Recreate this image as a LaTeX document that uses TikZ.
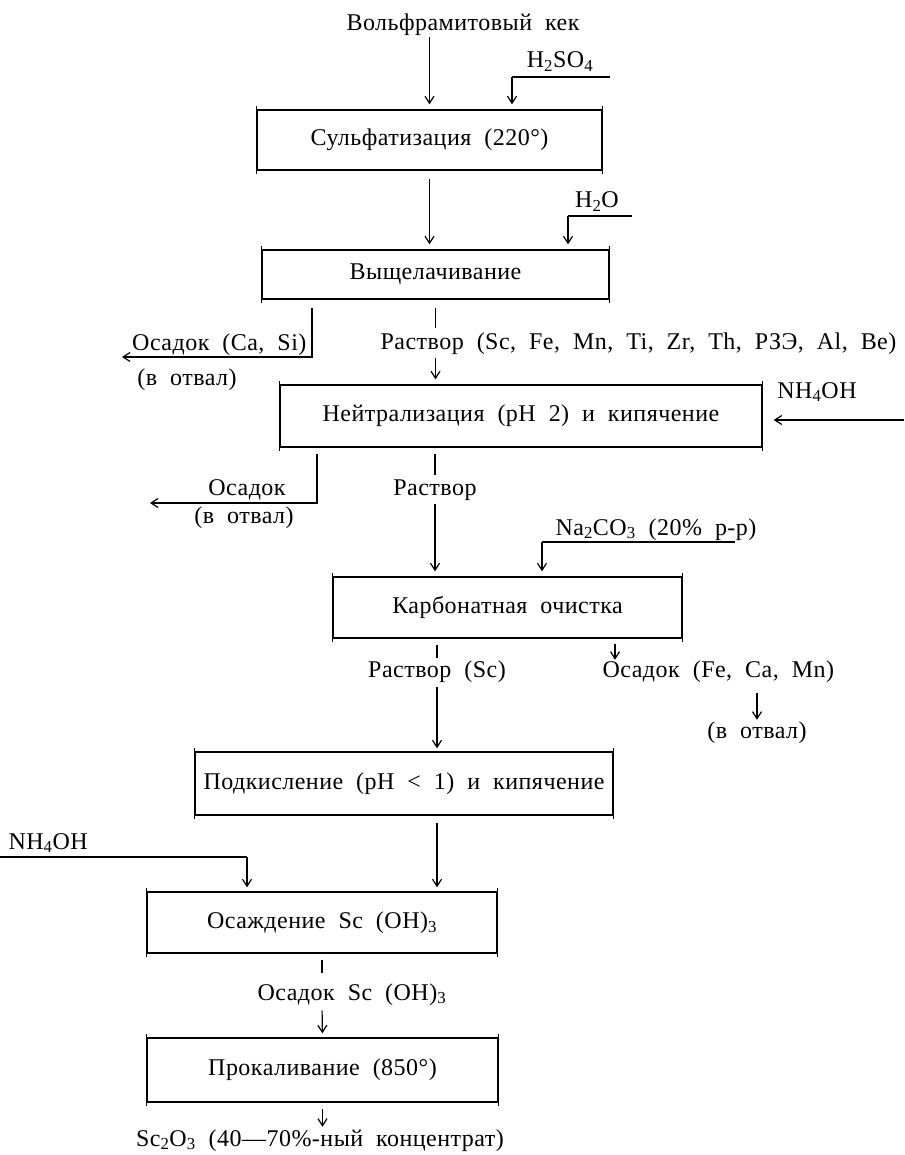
\documentclass[tikz,border=0pt]{standalone}
\usepackage{fontspec}
\setmainfont{Liberation Serif}[LetterSpace=2,WordSpace=2.0]
\usetikzlibrary{arrows.meta}

\begin{document}
\begin{tikzpicture}[x=1pt,y=-1pt,
                    font=\fontsize{24}{28}\selectfont,
                    line width=1.2pt,
                    stage/.style={draw,line width=1.4pt,inner sep=0pt},
                    txt/.style={anchor=base,inner sep=0pt},
                    flow/.style={-{Straight Barb[length=7pt,width=9pt]}}]

    \useasboundingbox (0,0) rectangle (904,1155);

    % stages of the process
    \node[stage,minimum width=345pt,minimum height=60pt] (sulf)   at (429.5,140)  {Сульфатизация (220°)};
    \node[stage,minimum width=347pt,minimum height=49pt] (leach)  at (435.5,274.5) {Выщелачивание};
    \node[stage,minimum width=482pt,minimum height=62pt] (neutr)  at (521,416)    {Нейтрализация (pH 2) и кипячение};
    \node[stage,minimum width=349pt,minimum height=61pt] (carb)   at (507.5,607.5) {Карбонатная очистка};
    \node[stage,minimum width=418pt,minimum height=63pt] (acid)   at (404,783.5)  {Подкисление (pH < 1) и кипячение};
    \node[stage,minimum width=350pt,minimum height=61pt] (precip) at (322,922.5)  {Осаждение Sc (OH)\textsubscript{3}};
    \node[stage,minimum width=351pt,minimum height=64pt] (calc)   at (322.5,1070) {Прокаливание (850°)};

    % side bars stick out a little
    \foreach \b in {sulf,leach,neutr,carb,acid,precip,calc}
        \draw[line width=1.4pt] ([yshift=3pt]\b.north west) -- ([yshift=-3pt]\b.south west)
                                ([yshift=3pt]\b.north east) -- ([yshift=-3pt]\b.south east);

    % products and reagents
    \node[txt] (kek) at (463,31) {Вольфрамитовый кек};
    \node[txt] (h2so4) at (560,68) {H\textsubscript{2}SO\textsubscript{4}};
    \node[txt] (h2o) at (597,208) {H\textsubscript{2}O};
    \node[txt,anchor=base east] (osad1) at (307,350) {Осадок (Ca, Si)};
    \node[txt] (otv1) at (187,385) {(в отвал)};
    \node[txt,anchor=base west] (sol1) at (380,349) {Раствор (Sc, Fe, Mn, Ti, Zr, Th, РЗЭ, Al, Be)};
    \node[txt] (nh1) at (817,398) {NH\textsubscript{4}OH};
    \node[txt] (osad2) at (247,495) {Осадок};
    \node[txt] (otv2) at (244,523) {(в отвал)};
    \node[txt] (sol2) at (435,495) {Раствор};
    \node[txt,anchor=base west] (soda) at (555,535) {Na\textsubscript{2}CO\textsubscript{3} (20\% р-р)};
    \node[txt] (sol3) at (437,677) {Раствор (Sc)};
    \node[txt,anchor=base west] (osad3) at (602,677) {Осадок (Fe, Ca, Mn)};
    \node[txt] (otv3) at (757,738) {(в отвал)};
    \node[txt,anchor=base west] (nh2) at (8,849) {NH\textsubscript{4}OH};
    \node[txt,anchor=base west] (osad4) at (257,1000) {Осадок Sc (OH)\textsubscript{3}};
    \node[txt] (oxide) at (320,1146) {Sc\textsubscript{2}O\textsubscript{3} (40—70\%-ный концентрат)};

    % corners and loose ends of the feed lines
    \coordinate (in1) at (512,77);   \coordinate (in1e) at (610,77);
    \coordinate (in2) at (568,216);  \coordinate (in2e) at (632,216);
    \coordinate (in3) at (904,420);
    \coordinate (in4) at (542,542);  \coordinate (in4e) at (735,542);
    \coordinate (in5) at (247,857);  \coordinate (in5e) at (0,857);
    \coordinate (d1) at (312,357);   \coordinate (d1e) at (122,357);
    \coordinate (d2) at (317,503);   \coordinate (d2e) at (150,503);
    \coordinate (f3) at ([xshift=13pt]osad3.north west);

    % main stream
    \draw[flow,shorten >=5pt] (kek.south -| sulf) -- (sulf.north);
    \draw[flow,shorten <=8pt,shorten >=5pt] (sulf.south) -- (leach.north -| sulf.south);
    \draw[shorten <=8pt,shorten >=4pt] (leach.south) -- (leach.south |- sol1.north);
    \draw[flow,shorten <=3pt,shorten >=5pt] (leach.south |- sol1.south) -- (neutr.north -| leach.south);
    \draw[shorten <=6pt,shorten >=4pt] (neutr.south -| sol2) -- (sol2.north);
    \draw[flow,shorten <=3pt,shorten >=5pt] (sol2.south) -- (carb.north -| sol2);
    \draw[shorten <=6pt,shorten >=2pt] (carb.south -| sol3) -- (sol3.north);
    \draw[flow,shorten <=4pt,shorten >=3pt] (sol3.south) -- (acid.north -| sol3);
    \draw[flow,shorten <=7pt,shorten >=4pt] (acid.south -| sol3) -- (precip.north -| sol3);
    \draw[shorten <=6pt,shorten >=10pt] (precip.south) -- (precip.south |- osad4.north);
    \draw[flow,shorten <=5pt,shorten >=4pt] (precip.south |- osad4.south) -- (calc.north);
    \draw[flow,shorten <=6pt,shorten >=2pt] (calc.south) -- (calc.south |- oxide.north);

    % reagents fed in
    \draw (in1e) -- (in1);
    \draw[flow,shorten >=5pt] (in1) -- (in1 |- sulf.north);
    \draw (in2e) -- (in2);
    \draw[flow,shorten >=5pt] (in2) -- (in2 |- leach.north);
    \draw[flow,shorten >=11pt] (in3) -- (in3 -| neutr.east);
    \draw (in4e) -- (in4);
    \draw[flow,shorten >=5pt] (in4) -- (in4 |- carb.north);
    \draw (in5e) -- (in5);
    \draw[flow,shorten >=4pt] (in5) -- (in5 |- precip.north);

    % residues to waste
    \draw[flow,shorten <=8pt] (leach.south -| d1) -- (d1) -- (d1e);
    \draw[flow,shorten <=6pt] (neutr.south -| d2) -- (d2) -- (d2e);
    \draw[flow,shorten <=5pt] (f3 |- carb.south) -- (f3);
    \draw[flow,shorten <=10pt,shorten >=1pt] (otv3.north |- osad3.south) -- (otv3.north);
\end{tikzpicture}
\end{document}
